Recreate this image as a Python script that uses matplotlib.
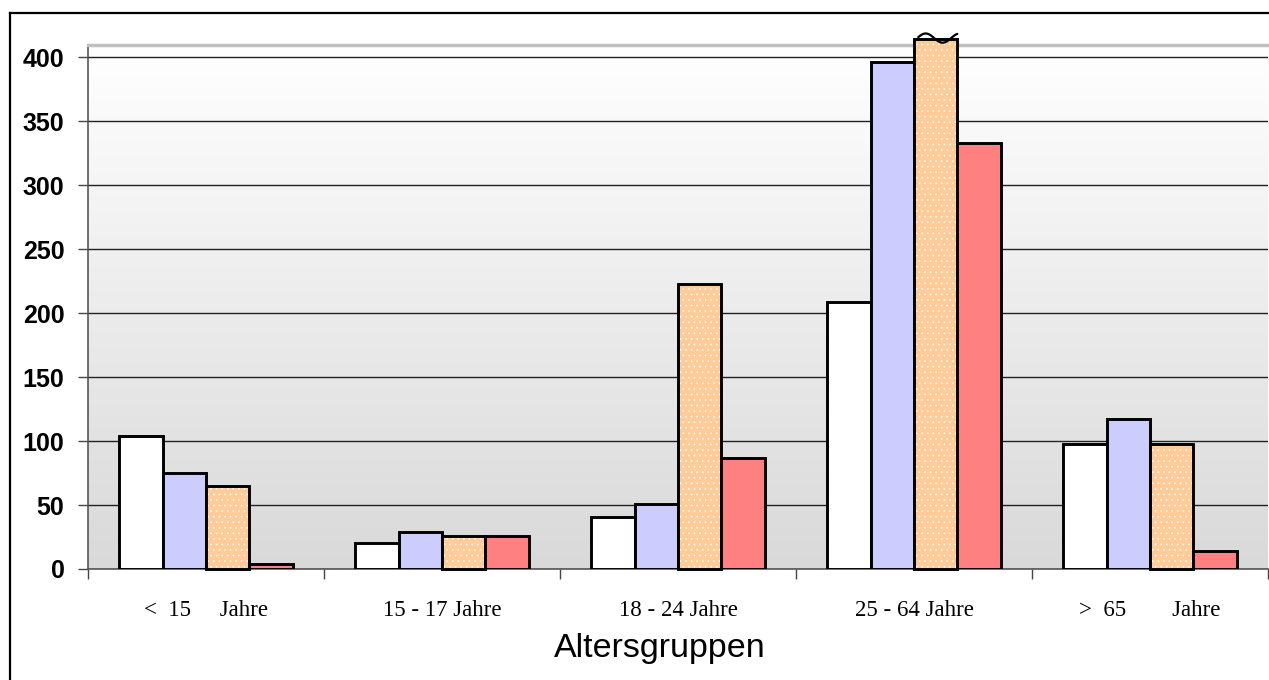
import numpy as np
import matplotlib.pyplot as plt
from matplotlib.colors import LinearSegmentedColormap
from matplotlib.lines import Line2D

plt.rcParams.update({
    "font.family": ["Liberation Sans", "DejaVu Sans"],
    "hatch.linewidth": 0.4,
})

# Age groups and counts per series (four series per group)
groups = ["<  15     Jahre", "15 - 17 Jahre", "18 - 24 Jahre", "25 - 64 Jahre", ">  65        Jahre"]
series_a = [104, 20, 41, 209, 98]
series_b = [75, 29, 51, 396, 117]
series_c = [65, 26, 223, 460, 98]
series_d = [4, 26, 87, 333, 14]

y_top = 409.6      # upper limit of the value axis
y_break = 414      # bars above the axis are cut here and get a break mark
edge_lw = 2.1

fig = plt.figure(figsize=(12.69, 6.8), dpi=100)
ax = fig.add_axes([88 / 1269, 1 - 569 / 680, 1180 / 1269, 524 / 680])

# soft vertical gradient behind the bars
grad = np.linspace(0, 1, 256).reshape(-1, 1)
bg = LinearSegmentedColormap.from_list("bg", ["#d9d9d9", "#ffffff"])
ax.imshow(grad, extent=[0, 1, 0, 1], transform=ax.transAxes, aspect="auto",
          cmap=bg, origin="lower", zorder=0)

x = np.arange(len(groups))
w = 0.1835
offsets = (np.arange(4) - 1.5) * w

ax.bar(x + offsets[0], series_a, w, color="white", edgecolor="black", lw=edge_lw, zorder=3)
ax.bar(x + offsets[1], series_b, w, color="#ccccff", edgecolor="black", lw=edge_lw, zorder=3)

clipped_c = np.minimum(series_c, y_break)
ax.bar(x + offsets[2], clipped_c, w, color="#ffcc99", edgecolor="white", lw=0,
       hatch="...", zorder=3, clip_on=False)
ax.bar(x + offsets[2], clipped_c, w, fill=False, edgecolor="black", lw=edge_lw, zorder=4,
       clip_on=False)

ax.bar(x + offsets[3], series_d, w, color="#ff8080", edgecolor="black", lw=edge_lw, zorder=3)

# wavy break mark on top of cut bars
for i, v in enumerate(series_c):
    if v > y_break:
        x0 = x[i] + offsets[2] - w / 2
        xs = np.linspace(x0 + 0.018, x0 + w, 80)
        t = (xs - xs[0]) / (xs[-1] - xs[0])
        ys = y_break + 1.0 + 3.6 * np.sin(t * 2.3 * np.pi + 0.2)
        ax.plot(xs, ys, color="black", lw=1.6, zorder=5, clip_on=False,
                solid_capstyle="round")

ax.set_xlim(-0.5, len(groups) - 0.5)
ax.set_ylim(0, y_top)
ax.set_yticks(np.arange(0, 401, 50))
ax.yaxis.grid(True, color="#222222", lw=1.0, zorder=1)
ax.set_axisbelow(True)

ax.set_xticks(np.arange(-0.5, len(groups), 1.0))
ax.set_xticklabels([])
ax.set_xticks(x, minor=True)
ax.set_xticklabels(groups, minor=True, family=["Liberation Serif"], fontsize=16.5)
ax.tick_params(axis="x", which="major", length=7, color="#444444", width=1)
ax.tick_params(axis="x", which="minor", length=0, pad=22)
ax.tick_params(axis="y", length=7, color="#444444", width=1, pad=10)
for lab in ax.get_yticklabels():
    lab.set_fontweight("bold")
    lab.set_fontsize(18)

for s in ["left", "bottom"]:
    ax.spines[s].set_color("#555555")
    ax.spines[s].set_linewidth(1.2)
ax.spines["top"].set_color("#c0c0c0")
ax.spines["top"].set_linewidth(2.5)
ax.spines["right"].set_visible(False)

fig.text(660 / 1269, 1 - 648 / 680, "Altersgruppen", ha="center", va="center", fontsize=24.5)

# frame around the figure (top and left edges)
fig.add_artist(Line2D([10 / 1269, 1], [1 - 13 / 680, 1 - 13 / 680], color="black", lw=1.6,
                      transform=fig.transFigure))
fig.add_artist(Line2D([10 / 1269, 10 / 1269], [0, 1 - 13 / 680], color="black", lw=1.6,
                      transform=fig.transFigure))

fig.savefig("out.png", dpi=100)
